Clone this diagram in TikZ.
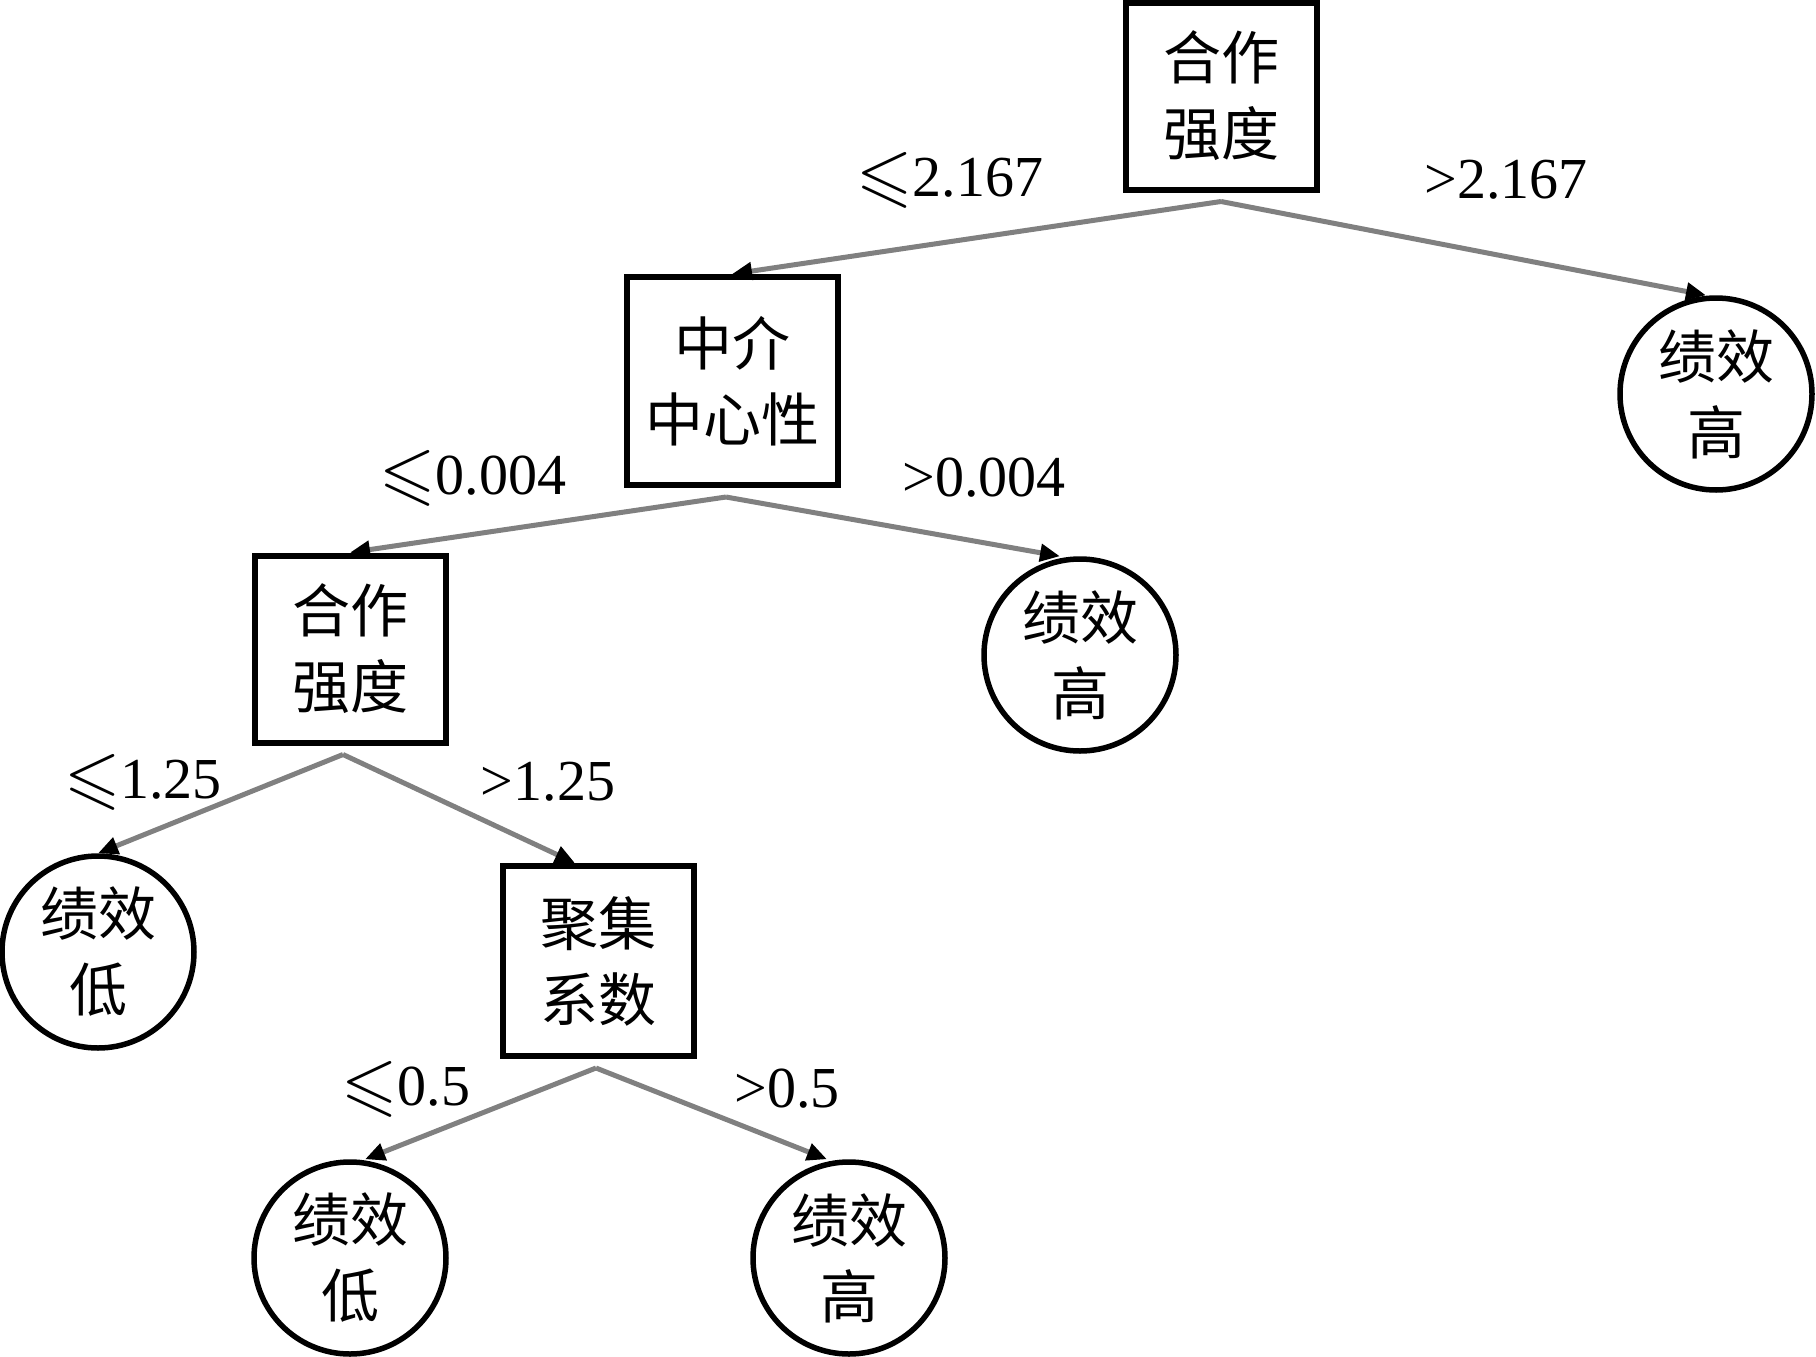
\documentclass[tikz,border=0pt]{standalone}
\usepackage{fontspec}
\usepackage{amssymb}
\setmainfont{Liberation Serif}
\newfontfamily\cjk{Noto Sans CJK SC}
\usetikzlibrary{arrows.meta,calc}
\newcommand{\myleq}{\raisebox{-2pt}{\scalebox{1.25}{$\leqslant$}}}
\begin{document}
\begin{tikzpicture}[x=1pt,y=-1pt,
  boxnode/.style={draw=black,line width=6pt,minimum width=191pt,minimum height=187pt,inner sep=0pt,align=center,font=\cjk\fontsize{58}{76}\selectfont},
  leafnode/.style={draw=black,circle,line width=5.5pt,minimum size=192pt,inner sep=0pt,align=center,font=\cjk\fontsize{58}{76}\selectfont},
  edge/.style={draw={rgb,255:red,128;green,128;blue,128},line width=5pt,-{Triangle[color=black,length=20pt,width=17pt]}},
  lbl/.style={font=\fontsize{58}{60}\selectfont,inner sep=0pt}]
\useasboundingbox (0,0) rectangle (1816,1357);
\node[boxnode] (root) at (1221,96) {合作\\强度};
\node[boxnode,minimum width=211pt,minimum height=208pt] (b2) at (732,381) {中介\\中心性};
\node[leafnode] (c1) at (1716,394) {绩效\\高};
\node[boxnode] (b3) at (350,649) {合作\\强度};
\node[leafnode] (c2) at (1080,655) {绩效\\高};
\node[leafnode] (c3) at (98,952) {绩效\\低};
\node[boxnode,minimum height=190pt] (b4) at (598,961) {聚集\\系数};
\node[leafnode] (c4) at (350,1258) {绩效\\低};
\node[leafnode] (c5) at (849,1258) {绩效\\高};
\coordinate (s1) at ($(root.south)+(0,9)$);
\coordinate (s2) at ($(b2.south)+(-6,9)$);
\coordinate (s3) at ($(b3.south)+(-7,9)$);
\coordinate (s4) at ($(b4.south)+(-2,9)$);
\draw[edge] (s1) -- (b2.north);
\draw[edge] (s1) -- ($(c1.north)+(-10,0)$);
\draw[edge] (s2) -- (b3.north);
\draw[edge] (s2) -- ($(c2.north)+(-20,0)$);
\draw[edge] (s3) -- (c3.north);
\draw[edge] (s3) -- ($(b4.north)+(-23,0)$);
\draw[edge] (s4) -- ($(c4.north)+(15,0)$);
\draw[edge] (s4) -- ($(c5.north)+(-22,0)$);
\node[lbl] (l1) at (950,180) {\myleq2.167};
\node[lbl] (l2) at (1506,180) {>2.167};
\node[lbl] (l3) at (473,478) {\myleq0.004};
\node[lbl] (l4) at (984,478) {>0.004};
\node[lbl] (l5) at (143,782) {\myleq1.25};
\node[lbl] (l6) at (548,782) {>1.25};
\node[lbl] (l7) at (406,1089) {\myleq0.5};
\node[lbl] (l8) at (787,1089) {>0.5};
\end{tikzpicture}
\end{document}
